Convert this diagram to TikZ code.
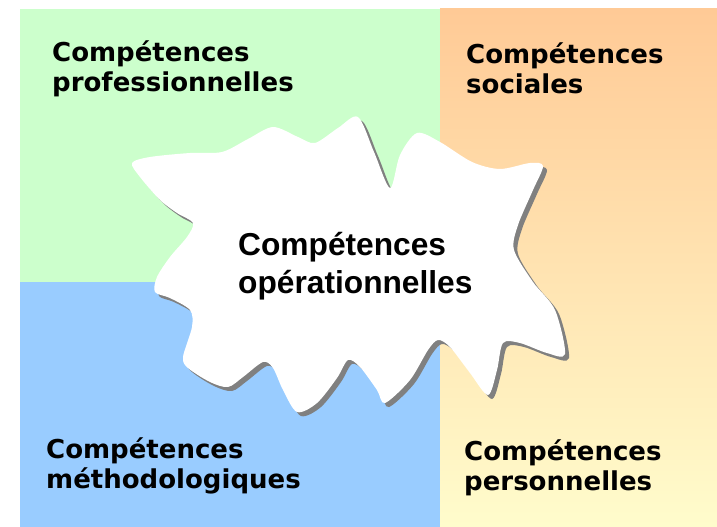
\documentclass[tikz,border=0pt]{standalone}
\usepackage{fontspec}
\newfontfamily\quadfont{DejaVu Sans}
\newfontfamily\cloudfont{Liberation Sans}
\definecolor{profgreen}{HTML}{CCFFCC}
\definecolor{methblue}{HTML}{99CCFF}
\definecolor{socorange}{HTML}{FFCA96}
\definecolor{persyellow}{HTML}{FFFCCC}
\definecolor{shadowgrey}{HTML}{808080}
\newcommand{\cloudoutline}{plot[smooth cycle,tension=0.5] coordinates {
  (132,163) (150,157) (190,153) (222,152) (248,139) (273,127) (298,137)
  (315,143) (338,128) (358,117) (374,152) (390,188) (400,155) (417,133)
  (440,142) (472,162) (500,169) (530,163) (543,166) (533,190) (518,225)
  (514,250) (533,282) (555,310) (565,354) (547,353) (520,343) (503,343)
  (497,370) (488,395) (470,373) (450,347) (438,340) (428,350) (410,380)
  (385,403) (377,390) (360,367) (348,360) (337,378) (317,403) (297,412)
  (283,390) (273,368) (263,362) (243,377) (228,387) (210,382) (188,368)
  (183,357) (192,327) (190,310) (170,298) (155,292) (157,277) (170,257)
  (187,237) (193,223) (177,213) (160,200) (140,177)}}

\begin{document}
\begin{tikzpicture}[x=1pt,y=-1pt,
  quadlabel/.style={anchor=base west,align=left,inner sep=0pt,
    font=\quadfont\bfseries\fontsize{26}{29.5}\selectfont},
  cloudlabel/.style={anchor=base west,align=left,inner sep=0pt,
    font=\cloudfont\bfseries\fontsize{31.7}{38}\selectfont}]
\useasboundingbox (0,0) rectangle (717,527);
% quadrants
\fill[profgreen] (20,9) rectangle (440,282);
\fill[methblue] (20,282) rectangle (440,527);
\shade[top color=socorange,bottom color=persyellow] (440,9) rectangle (717,527);
% cloud with its shadow
\fill[shadowgrey,shift={(4,4)}] \cloudoutline;
\fill[white] \cloudoutline;
\node[quadlabel] (prof) at (52,91) {Compétences\\professionnelles};
\node[quadlabel] (soc) at (466,93) {Compétences\\sociales};
\node[quadlabel] (meth) at (46,488) {Compétences\\méthodologiques};
\node[quadlabel] (pers) at (464,490) {Compétences\\personnelles};
\node[cloudlabel] (oper) at (238,293) {Compétences\\opérationnelles};
\end{tikzpicture}
\end{document}
